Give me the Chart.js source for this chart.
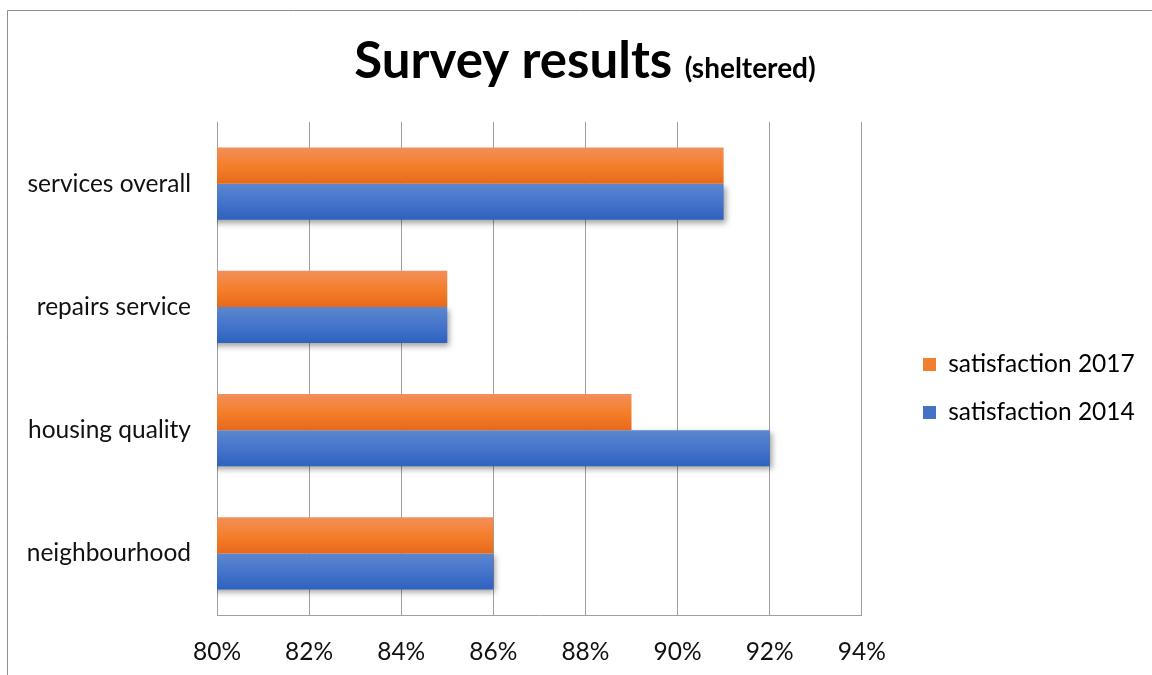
<!DOCTYPE html>
<html>
<head>
<meta charset="utf-8">
<script src="https://cdn.jsdelivr.net/npm/chart.js@4/dist/chart.umd.min.js"></script>
<style>
  html, body { margin: 0; padding: 0; background: #fff; }
  #wrap { width: 1152px; height: 675px; }
</style>
</head>
<body>
<div id="wrap"><canvas id="chart"></canvas></div>
<script>
const categories = ['services overall', 'repairs service', 'housing quality', 'neighbourhood'];
const satisfaction2017 = [91, 85, 89, 86];
const satisfaction2014 = [91, 85, 92, 86];
const seriesNames = ['satisfaction 2017', 'satisfaction 2014'];
const axisMin = 80;
const axisMax = 94;
const axisStep = 2;

const FONT = 'Lato, "Open Sans", sans-serif';
const FONT_SIZE = 24.5;
const CAT_PCT = 0.585;
const LEGEND_PAD = 23.5;

const orangeStops = ['#f38f5b', '#f47f2b', '#e7691b'];
const blueStops = ['#5c86cf', '#4675cb', '#2e62bf'];

// vertical gradient per bar, worked out from the category scale
function barFill(stops, slot) {
  return (ctx) => {
    const chart = ctx.chart;
    const y = chart.scales.y;
    if (!y || ctx.dataIndex === undefined) return stops[1];
    const center = y.getPixelForValue(ctx.dataIndex);
    const band = y.height / categories.length;
    const thick = band * CAT_PCT / 2;
    const top = slot === 0 ? center - thick : center;
    const g = chart.ctx.createLinearGradient(0, top, 0, top + thick);
    g.addColorStop(0, stops[0]);
    g.addColorStop(0.5, stops[1]);
    g.addColorStop(1, stops[2]);
    return g;
  };
}

const frameAndTitle = {
  id: 'frameAndTitle',
  afterLayout(chart) {
    // legend sits further right of the plot than the default box allows
    const lg = chart.legend;
    if (!lg) return;
    const w = lg.width, h = lg.height;
    lg.left = 923 - LEGEND_PAD;
    lg.right = lg.left + w;
    lg.top -= 10;
    lg.bottom = lg.top + h;
  },
  beforeDraw(chart) {
    const c = chart.ctx;
    c.save();
    c.strokeStyle = '#8e8e8e';
    c.lineWidth = 1;
    c.beginPath();
    c.moveTo(7.5, 675);
    c.lineTo(7.5, 10.5);
    c.lineTo(1152, 10.5);
    c.stroke();

    const big = 'bold 51px ' + FONT;
    const small = 'bold 28px ' + FONT;
    const t1 = 'Survey results ';
    const t2 = '(sheltered)';
    c.font = big;
    const w1 = c.measureText(t1).width;
    c.font = small;
    const w2 = c.measureText(t2).width;
    const x = 585 - (w1 + w2) / 2;
    c.fillStyle = '#000';
    c.textBaseline = 'alphabetic';
    c.textAlign = 'left';
    c.font = big;
    c.fillText(t1, x, 78);
    c.font = small;
    c.fillText(t2, x + w1, 78);
    c.restore();
  },
  beforeDatasetDraw(chart, args) {
    const c = chart.ctx;
    c.save();
    if (args.index === 1) {
      c.shadowColor = 'rgba(0,0,0,0.38)';
      c.shadowBlur = 6;
      c.shadowOffsetX = 2;
      c.shadowOffsetY = 3;
    }
  },
  afterDatasetDraw(chart) {
    chart.ctx.restore();
  }
};

new Chart(document.getElementById('chart'), {
  type: 'bar',
  data: {
    labels: categories,
    datasets: [{
      label: seriesNames[0],
      data: satisfaction2017,
      backgroundColor: barFill(orangeStops, 0),
      categoryPercentage: CAT_PCT,
      barPercentage: 1
    }, {
      label: seriesNames[1],
      data: satisfaction2014,
      backgroundColor: barFill(blueStops, 1),
      categoryPercentage: CAT_PCT,
      barPercentage: 1
    }]
  },
  options: {
    indexAxis: 'y',
    responsive: true,
    maintainAspectRatio: false,
    animation: false,
    layout: { padding: { top: 122, right: 45, bottom: 0, left: 0 } },
    plugins: {
      title: { display: false },
      tooltip: { enabled: false },
      legend: {
        position: 'right',
        labels: {
          font: { family: FONT, size: FONT_SIZE },
          color: '#111',
          boxWidth: 13,
          boxHeight: 13,
          padding: LEGEND_PAD,
          generateLabels: () => [
            { text: seriesNames[0], fillStyle: '#f07f32', strokeStyle: '#f07f32', lineWidth: 0, datasetIndex: 0 },
            { text: seriesNames[1], fillStyle: '#4472c4', strokeStyle: '#4472c4', lineWidth: 0, datasetIndex: 1 }
          ]
        }
      }
    },
    scales: {
      x: {
        min: axisMin,
        max: axisMax,
        ticks: {
          stepSize: axisStep,
          padding: 22,
          color: '#111',
          font: { family: FONT, size: FONT_SIZE },
          callback: (v) => v + '%'
        },
        grid: { color: '#a0a0a0', drawTicks: false, tickLength: 0 },
        border: { display: true, color: '#a0a0a0' },
        afterFit: (s) => { s.height = 60; }
      },
      y: {
        ticks: {
          padding: 26,
          color: '#111',
          font: { family: FONT, size: FONT_SIZE }
        },
        grid: { display: false, drawTicks: false, tickLength: 0 },
        border: { display: true, color: '#a0a0a0' },
        afterFit: (s) => { s.width = 217; }
      }
    }
  },
  plugins: [frameAndTitle]
});
</script>
</body>
</html>
